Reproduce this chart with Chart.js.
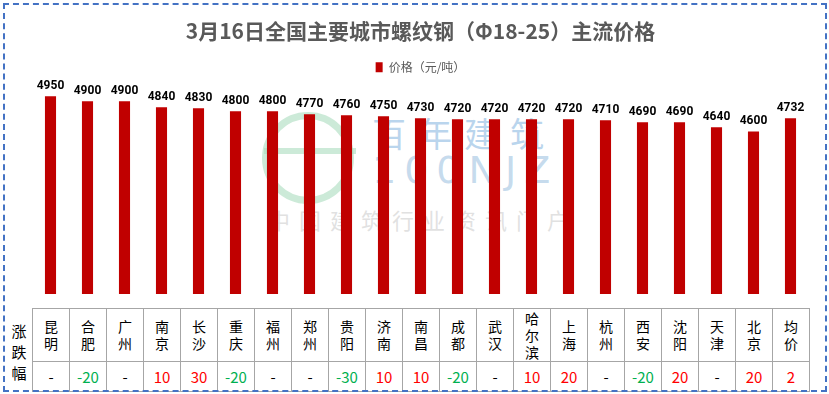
<!DOCTYPE html>
<html>
<head>
<meta charset="utf-8">
<script src="https://cdn.jsdelivr.net/npm/chart.js@4"></script>
<style>
  body { margin: 0; background: #fff; }
  .frame {
    position: relative;
    width: 829px;
    height: 394px;
    overflow: hidden;
    font-family: "Noto Sans CJK SC", sans-serif;
  }
  .border {
    position: absolute;
    left: 3px; top: 3px; width: 820px; height: 385px;
    border: 2px dashed #4472C4;
    pointer-events: none;
  }
  canvas { position: absolute; left: 0; top: 0; }
  .mark { position: absolute; white-space: nowrap; pointer-events: none; }
  table.tb {
    position: absolute;
    left: 32px; top: 308px;
    border-collapse: collapse;
    table-layout: fixed;
  }
  table.tb td {
    border: 1px solid #A6A6A6;
    width: 36px;
    padding: 0;
    text-align: center;
    font-size: 14px;
    line-height: 17px;
    color: #000;
  }
  table.tb tr.names td { height: 52px; }
  table.tb tr.vals td { height: 29px; font-size: 15px; }
  .rowlabel {
    position: absolute;
    left: 8px; top: 320px; width: 22px;
    font-size: 15px; line-height: 21px;
    text-align: center;
  }
</style>
</head>
<body>
<div class="frame">
  <div class="mark" style="left:262px;top:112px;width:78px;height:78px;border:7px solid rgba(170,220,190,0.6);border-radius:50%;"></div>
  <div class="mark" style="left:264px;top:148px;width:92px;height:6px;background:rgba(170,220,190,0.6);"></div>
  <div class="mark" style="left:372px;top:108px;font-size:34px;color:rgba(140,185,225,0.6);letter-spacing:12px;">百年建筑</div>
  <div class="mark" style="left:372px;top:148px;font-size:38px;color:rgba(160,195,225,0.6);font-family:'DejaVu Sans';letter-spacing:8px;">100NJZ</div>
  <div class="mark" style="left:268px;top:203px;font-size:22px;color:rgba(200,200,200,0.55);letter-spacing:9px;">中国建筑行业资讯门户</div>
  <canvas id="myChart" width="829" height="294"></canvas>
  <div class="rowlabel">涨<br>跌<br>幅</div>
  <table class="tb" id="tb"></table>
  <div class="border"></div>
</div>
<script>
const cities = ["昆明", "合肥", "广州", "南京", "长沙", "重庆", "福州", "郑州", "贵阳", "济南", "南昌",
  "成都", "武汉", "哈尔滨", "上海", "杭州", "西安", "沈阳", "天津", "北京", "均价"];
const prices = [4950, 4900, 4900, 4840, 4830, 4800, 4800, 4770, 4760, 4750, 4730,
  4720, 4720, 4720, 4720, 4710, 4690, 4690, 4640, 4600, 4732];
const changes = ["-", "-20", "-", "10", "30", "-20", "-", "-", "-30", "10", "10",
  "-20", "-", "10", "20", "-", "-20", "20", "-", "20", "2"];

// table under the bars
const tb = document.getElementById("tb");
const trNames = document.createElement("tr");
trNames.className = "names";
const trVals = document.createElement("tr");
trVals.className = "vals";
cities.forEach((c, i) => {
  const td = document.createElement("td");
  td.innerHTML = c.split("").join("<br>");
  trNames.appendChild(td);
  const tv = document.createElement("td");
  const v = changes[i];
  tv.textContent = v;
  tv.style.color = v === "-" ? "#000" : (v.startsWith("-") ? "#00B050" : "#FF0000");
  trVals.appendChild(tv);
});
tb.appendChild(trNames);
tb.appendChild(trVals);

// value labels above each bar
const valueLabels = {
  id: "valueLabels",
  afterDatasetsDraw(chart) {
    const ctx = chart.ctx;
    const meta = chart.getDatasetMeta(0);
    ctx.save();
    ctx.font = "bold 12px Roboto, sans-serif";
    ctx.fillStyle = "#000";
    ctx.textAlign = "center";
    ctx.textBaseline = "bottom";
    meta.data.forEach((bar, i) => {
      ctx.fillText(prices[i], bar.x, bar.y - 4);
    });
    ctx.restore();
  },
};

const ctx = document.getElementById("myChart").getContext("2d");
new Chart(ctx, {
  type: "bar",
  data: {
    labels: cities,
    datasets: [
      {
        label: "价格（元/吨）",
        data: prices,
        backgroundColor: "#C00000",
        barPercentage: 0.3,
        categoryPercentage: 1,
      },
    ],
  },
  options: {
    responsive: false,
    animation: false,
    layout: { padding: { left: 32, right: 20, top: 16, bottom: 0 } },
    scales: {
      x: { display: false },
      y: { display: false, min: 2980, max: 5080 },
    },
    plugins: {
      title: {
        display: true,
        text: "3月16日全国主要城市螺纹钢（Φ18-25）主流价格",
        color: "#595959",
        font: { family: "'Noto Sans CJK SC'", size: 21, weight: "bold" },
        padding: { top: 2, bottom: 8 },
      },
      legend: {
        display: true,
        labels: {
          boxWidth: 7,
          boxHeight: 10,
          color: "#595959",
          font: { family: "'Noto Sans CJK SC'", size: 12 },
        },
      },
      tooltip: { enabled: false },
    },
  },
  plugins: [valueLabels],
});
</script>
</body>
</html>
